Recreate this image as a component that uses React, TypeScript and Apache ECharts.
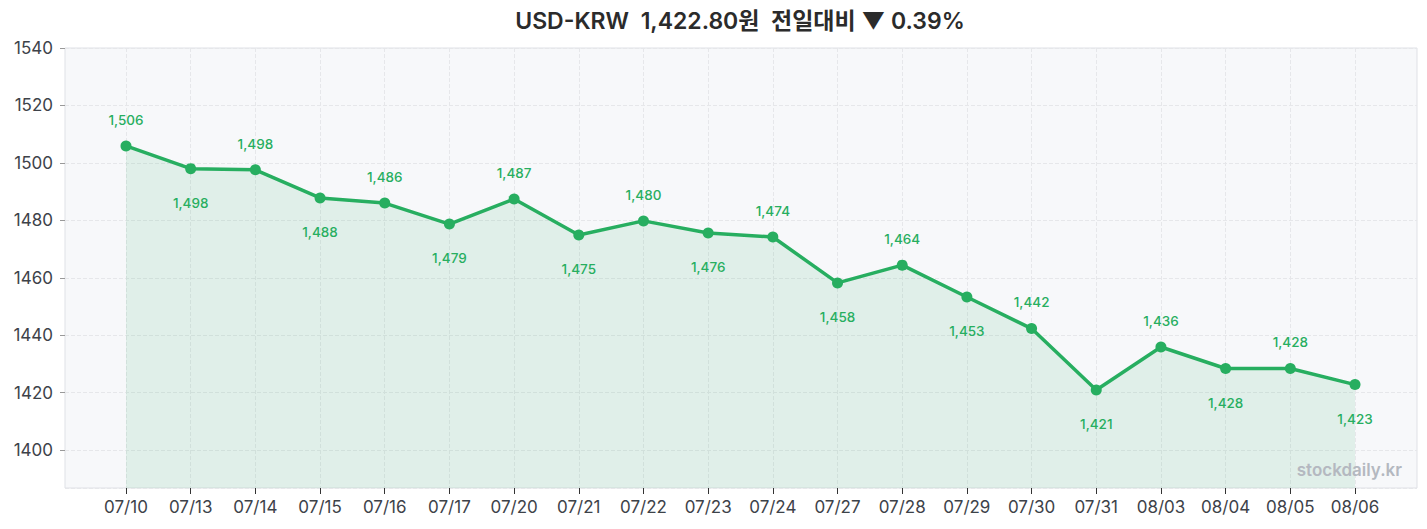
import React, { useEffect, useRef } from "react";
import * as echarts from "echarts";

// trading days shown on the x axis
const dates = [
  "07/10", "07/13", "07/14", "07/15", "07/16", "07/17", "07/20", "07/21", "07/22", "07/23",
  "07/24", "07/27", "07/28", "07/29", "07/30", "07/31", "08/03", "08/04", "08/05", "08/06",
];

// USD-KRW closing rates
const rates = [
  1505.9, 1498.0, 1497.6, 1487.8, 1486.0, 1478.7, 1487.4, 1474.9, 1479.8, 1475.6,
  1474.2, 1458.2, 1464.4, 1453.3, 1442.3, 1420.9, 1435.9, 1428.4, 1428.4, 1422.8,
];

const yMin = 1386.8;
const yMax = 1540;
const yStep = 20;

const titleText = "USD-KRW  1,422.80원  전일대비 ▼ 0.39%";
const watermark = "stockdaily.kr";

const FONT = "Inter, 'Noto Sans CJK KR', sans-serif";
const GREEN = "#27ae60";
const AXIS_TEXT = "#3d4249";

const App: React.FC = () => {
  const chartRef = useRef<HTMLDivElement>(null);

  useEffect(() => {
    if (!chartRef.current) return;
    const chart = echarts.init(chartRef.current, undefined, { renderer: "svg" });

    chart.setOption({
      animation: false,
      textStyle: { fontFamily: FONT },
      graphic: [
        {
          type: "text",
          x: 732,
          y: 13,
          style: {
            text: titleText,
            fontFamily: FONT,
            fontSize: 23,
            fontWeight: 600,
            fill: "#2b2b2b",
            textAlign: "center",
            textVerticalAlign: "middle",
          },
        },
        {
          type: "text",
          x: 1394,
          y: 462,
          z: 10,
          style: {
            text: watermark,
            fontFamily: FONT,
            fontSize: 17,
            fontWeight: 600,
            fill: "#b4b8c0",
            textAlign: "right",
            textVerticalAlign: "middle",
          },
        },
      ],
      grid: [
        // full plot frame with background and y grid lines
        {
          left: 57,
          right: 2,
          top: 40,
          bottom: 33,
          show: true,
          backgroundColor: "#f7f8fa",
          borderColor: "#dfe1e6",
          borderWidth: 1,
        },
        // inner grid where the line is drawn
        { left: 118, right: 64, top: 40, bottom: 33 },
      ],
      xAxis: [
        { type: "value", gridIndex: 0, min: 0, max: 1, show: false },
        {
          type: "category",
          gridIndex: 1,
          data: dates,
          boundaryGap: false,
          axisLine: { show: false },
          axisTick: { show: true, length: 6, lineStyle: { color: "#333" } },
          axisLabel: { fontSize: 17, color: AXIS_TEXT, margin: 10, fontFamily: FONT },
          splitLine: { show: true, lineStyle: { color: "#e6e7ea", type: "dashed" } },
        },
      ],
      yAxis: [
        {
          type: "value",
          gridIndex: 0,
          min: yMin,
          max: yMax,
          minInterval: yStep,
          maxInterval: yStep,
          axisLine: { show: false },
          axisTick: { show: true, length: 5, lineStyle: { color: "#999" } },
          axisLabel: {
            fontSize: 17,
            color: AXIS_TEXT,
            margin: 12,
            showMinLabel: false,
            fontFamily: FONT,
            formatter: (v: number) => String(Math.round(v)),
          },
          splitLine: { show: true, lineStyle: { color: "#e6e7ea", type: "dashed" } },
        },
        { type: "value", gridIndex: 1, min: yMin, max: yMax, show: false },
      ],
      series: [
        {
          type: "line",
          xAxisIndex: 1,
          yAxisIndex: 1,
          data: rates.map((v, i) => ({
            value: v,
            label: {
              position: i % 2 === 0 ? "top" : "bottom",
              distance: i % 2 === 0 ? 14 : 22,
            },
          })),
          symbol: "circle",
          symbolSize: 11,
          lineStyle: { width: 3.5, color: GREEN },
          itemStyle: { color: GREEN },
          areaStyle: { color: "rgba(39,174,96,0.15)", origin: "start" },
          label: {
            show: true,
            fontSize: 13.5,
            fontWeight: 500,
            color: GREEN,
            fontFamily: FONT,
            formatter: (p: any) => Math.round(p.value).toLocaleString("en-US"),
          },
        },
      ],
    });

    return () => chart.dispose();
  }, []);

  return <div ref={chartRef} style={{ width: "1411px", height: "513px" }} />;
};

export default App;
